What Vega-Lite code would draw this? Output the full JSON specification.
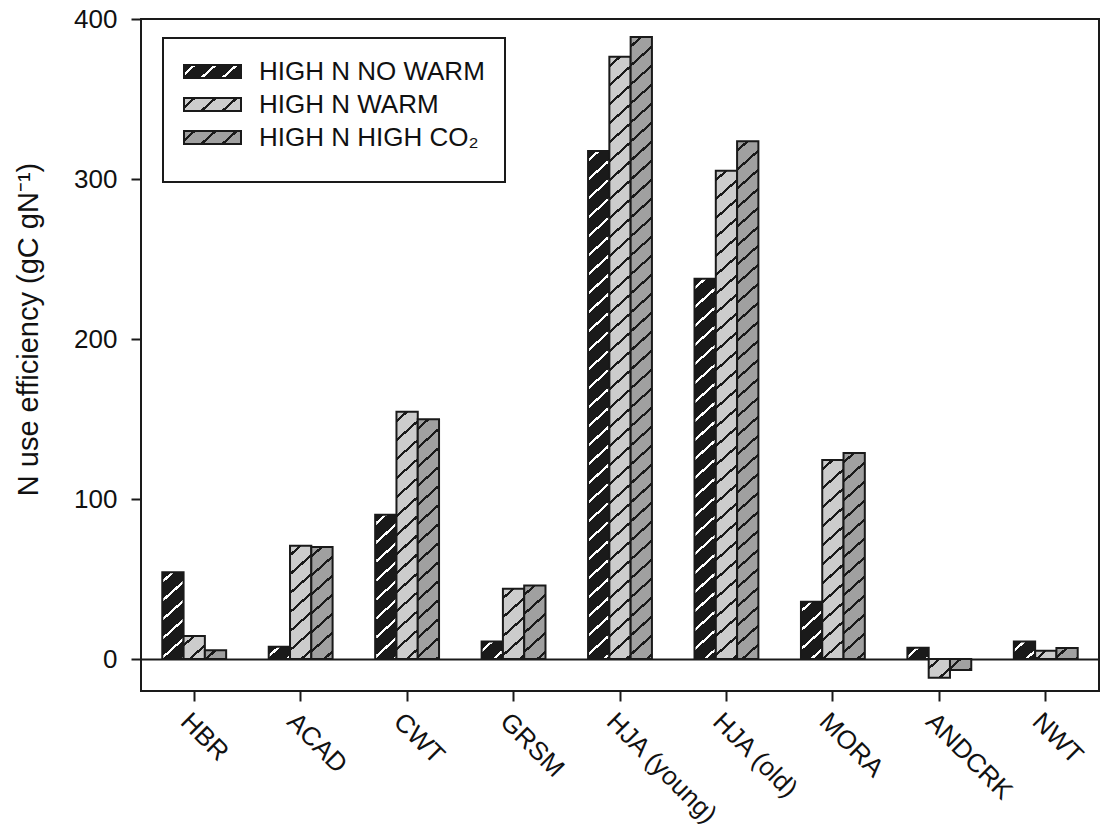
{
  "$schema": "https://vega.github.io/schema/vega-lite/v6.json",
  "width": 958,
  "height": 672,
  "autosize": "none",
  "padding": {"left": 141, "top": 19, "right": 3, "bottom": 144},
  "background": "white",
  "params": [
    {"name": "gradBlack", "value": {"gradient": "linear", "x1": 0, "y1": 0, "x2": 12.09, "y2": 3.064, "stops": [
      {"offset":0.0121,"color":"#1a1a1a"},{"offset":0.0121,"color":"#fff"},{"offset":0.0167,"color":"#fff"},{"offset":0.0167,"color":"#1a1a1a"},
      {"offset":0.0409,"color":"#1a1a1a"},{"offset":0.0409,"color":"#fff"},{"offset":0.0455,"color":"#fff"},{"offset":0.0455,"color":"#1a1a1a"},
      {"offset":0.0697,"color":"#1a1a1a"},{"offset":0.0697,"color":"#fff"},{"offset":0.0742,"color":"#fff"},{"offset":0.0742,"color":"#1a1a1a"},
      {"offset":0.0985,"color":"#1a1a1a"},{"offset":0.0985,"color":"#fff"},{"offset":0.1030,"color":"#fff"},{"offset":0.1030,"color":"#1a1a1a"},
      {"offset":0.1273,"color":"#1a1a1a"},{"offset":0.1273,"color":"#fff"},{"offset":0.1318,"color":"#fff"},{"offset":0.1318,"color":"#1a1a1a"},
      {"offset":0.1561,"color":"#1a1a1a"},{"offset":0.1561,"color":"#fff"},{"offset":0.1606,"color":"#fff"},{"offset":0.1606,"color":"#1a1a1a"},
      {"offset":0.1848,"color":"#1a1a1a"},{"offset":0.1848,"color":"#fff"},{"offset":0.1894,"color":"#fff"},{"offset":0.1894,"color":"#1a1a1a"},
      {"offset":0.2136,"color":"#1a1a1a"},{"offset":0.2136,"color":"#fff"},{"offset":0.2182,"color":"#fff"},{"offset":0.2182,"color":"#1a1a1a"},
      {"offset":0.2424,"color":"#1a1a1a"},{"offset":0.2424,"color":"#fff"},{"offset":0.2470,"color":"#fff"},{"offset":0.2470,"color":"#1a1a1a"},
      {"offset":0.2712,"color":"#1a1a1a"},{"offset":0.2712,"color":"#fff"},{"offset":0.2758,"color":"#fff"},{"offset":0.2758,"color":"#1a1a1a"},
      {"offset":0.3000,"color":"#1a1a1a"},{"offset":0.3000,"color":"#fff"},{"offset":0.3045,"color":"#fff"},{"offset":0.3045,"color":"#1a1a1a"},
      {"offset":0.3288,"color":"#1a1a1a"},{"offset":0.3288,"color":"#fff"},{"offset":0.3333,"color":"#fff"},{"offset":0.3333,"color":"#1a1a1a"},
      {"offset":0.3576,"color":"#1a1a1a"},{"offset":0.3576,"color":"#fff"},{"offset":0.3621,"color":"#fff"},{"offset":0.3621,"color":"#1a1a1a"},
      {"offset":0.3864,"color":"#1a1a1a"},{"offset":0.3864,"color":"#fff"},{"offset":0.3909,"color":"#fff"},{"offset":0.3909,"color":"#1a1a1a"},
      {"offset":0.4152,"color":"#1a1a1a"},{"offset":0.4152,"color":"#fff"},{"offset":0.4197,"color":"#fff"},{"offset":0.4197,"color":"#1a1a1a"},
      {"offset":0.4439,"color":"#1a1a1a"},{"offset":0.4439,"color":"#fff"},{"offset":0.4485,"color":"#fff"},{"offset":0.4485,"color":"#1a1a1a"},
      {"offset":0.4727,"color":"#1a1a1a"},{"offset":0.4727,"color":"#fff"},{"offset":0.4773,"color":"#fff"},{"offset":0.4773,"color":"#1a1a1a"},
      {"offset":0.5015,"color":"#1a1a1a"},{"offset":0.5015,"color":"#fff"},{"offset":0.5061,"color":"#fff"},{"offset":0.5061,"color":"#1a1a1a"},
      {"offset":0.5303,"color":"#1a1a1a"},{"offset":0.5303,"color":"#fff"},{"offset":0.5348,"color":"#fff"},{"offset":0.5348,"color":"#1a1a1a"},
      {"offset":0.5591,"color":"#1a1a1a"},{"offset":0.5591,"color":"#fff"},{"offset":0.5636,"color":"#fff"},{"offset":0.5636,"color":"#1a1a1a"},
      {"offset":0.5879,"color":"#1a1a1a"},{"offset":0.5879,"color":"#fff"},{"offset":0.5924,"color":"#fff"},{"offset":0.5924,"color":"#1a1a1a"},
      {"offset":0.6167,"color":"#1a1a1a"},{"offset":0.6167,"color":"#fff"},{"offset":0.6212,"color":"#fff"},{"offset":0.6212,"color":"#1a1a1a"},
      {"offset":0.6455,"color":"#1a1a1a"},{"offset":0.6455,"color":"#fff"},{"offset":0.6500,"color":"#fff"},{"offset":0.6500,"color":"#1a1a1a"},
      {"offset":0.6742,"color":"#1a1a1a"},{"offset":0.6742,"color":"#fff"},{"offset":0.6788,"color":"#fff"},{"offset":0.6788,"color":"#1a1a1a"},
      {"offset":0.7030,"color":"#1a1a1a"},{"offset":0.7030,"color":"#fff"},{"offset":0.7076,"color":"#fff"},{"offset":0.7076,"color":"#1a1a1a"},
      {"offset":0.7318,"color":"#1a1a1a"},{"offset":0.7318,"color":"#fff"},{"offset":0.7364,"color":"#fff"},{"offset":0.7364,"color":"#1a1a1a"},
      {"offset":0.7606,"color":"#1a1a1a"},{"offset":0.7606,"color":"#fff"},{"offset":0.7652,"color":"#fff"},{"offset":0.7652,"color":"#1a1a1a"},
      {"offset":0.7894,"color":"#1a1a1a"},{"offset":0.7894,"color":"#fff"},{"offset":0.7939,"color":"#fff"},{"offset":0.7939,"color":"#1a1a1a"},
      {"offset":0.8182,"color":"#1a1a1a"},{"offset":0.8182,"color":"#fff"},{"offset":0.8227,"color":"#fff"},{"offset":0.8227,"color":"#1a1a1a"},
      {"offset":0.8470,"color":"#1a1a1a"},{"offset":0.8470,"color":"#fff"},{"offset":0.8515,"color":"#fff"},{"offset":0.8515,"color":"#1a1a1a"},
      {"offset":0.8758,"color":"#1a1a1a"},{"offset":0.8758,"color":"#fff"},{"offset":0.8803,"color":"#fff"},{"offset":0.8803,"color":"#1a1a1a"},
      {"offset":0.9045,"color":"#1a1a1a"},{"offset":0.9045,"color":"#fff"},{"offset":0.9091,"color":"#fff"},{"offset":0.9091,"color":"#1a1a1a"},
      {"offset":0.9333,"color":"#1a1a1a"},{"offset":0.9333,"color":"#fff"},{"offset":0.9379,"color":"#fff"},{"offset":0.9379,"color":"#1a1a1a"},
      {"offset":0.9621,"color":"#1a1a1a"},{"offset":0.9621,"color":"#fff"},{"offset":0.9667,"color":"#fff"},{"offset":0.9667,"color":"#1a1a1a"},
      {"offset":0.9909,"color":"#1a1a1a"},{"offset":0.9909,"color":"#fff"},{"offset":0.9955,"color":"#fff"},{"offset":0.9955,"color":"#1a1a1a"}
    ]}},
    {"name": "gradLight", "value": {"gradient": "linear", "x1": 0, "y1": 0, "x2": 12.09, "y2": 3.064, "stops": [
      {"offset":0.0121,"color":"#ccc"},{"offset":0.0121,"color":"#1a1a1a"},{"offset":0.0167,"color":"#1a1a1a"},{"offset":0.0167,"color":"#ccc"},
      {"offset":0.0409,"color":"#ccc"},{"offset":0.0409,"color":"#1a1a1a"},{"offset":0.0455,"color":"#1a1a1a"},{"offset":0.0455,"color":"#ccc"},
      {"offset":0.0697,"color":"#ccc"},{"offset":0.0697,"color":"#1a1a1a"},{"offset":0.0742,"color":"#1a1a1a"},{"offset":0.0742,"color":"#ccc"},
      {"offset":0.0985,"color":"#ccc"},{"offset":0.0985,"color":"#1a1a1a"},{"offset":0.1030,"color":"#1a1a1a"},{"offset":0.1030,"color":"#ccc"},
      {"offset":0.1273,"color":"#ccc"},{"offset":0.1273,"color":"#1a1a1a"},{"offset":0.1318,"color":"#1a1a1a"},{"offset":0.1318,"color":"#ccc"},
      {"offset":0.1561,"color":"#ccc"},{"offset":0.1561,"color":"#1a1a1a"},{"offset":0.1606,"color":"#1a1a1a"},{"offset":0.1606,"color":"#ccc"},
      {"offset":0.1848,"color":"#ccc"},{"offset":0.1848,"color":"#1a1a1a"},{"offset":0.1894,"color":"#1a1a1a"},{"offset":0.1894,"color":"#ccc"},
      {"offset":0.2136,"color":"#ccc"},{"offset":0.2136,"color":"#1a1a1a"},{"offset":0.2182,"color":"#1a1a1a"},{"offset":0.2182,"color":"#ccc"},
      {"offset":0.2424,"color":"#ccc"},{"offset":0.2424,"color":"#1a1a1a"},{"offset":0.2470,"color":"#1a1a1a"},{"offset":0.2470,"color":"#ccc"},
      {"offset":0.2712,"color":"#ccc"},{"offset":0.2712,"color":"#1a1a1a"},{"offset":0.2758,"color":"#1a1a1a"},{"offset":0.2758,"color":"#ccc"},
      {"offset":0.3000,"color":"#ccc"},{"offset":0.3000,"color":"#1a1a1a"},{"offset":0.3045,"color":"#1a1a1a"},{"offset":0.3045,"color":"#ccc"},
      {"offset":0.3288,"color":"#ccc"},{"offset":0.3288,"color":"#1a1a1a"},{"offset":0.3333,"color":"#1a1a1a"},{"offset":0.3333,"color":"#ccc"},
      {"offset":0.3576,"color":"#ccc"},{"offset":0.3576,"color":"#1a1a1a"},{"offset":0.3621,"color":"#1a1a1a"},{"offset":0.3621,"color":"#ccc"},
      {"offset":0.3864,"color":"#ccc"},{"offset":0.3864,"color":"#1a1a1a"},{"offset":0.3909,"color":"#1a1a1a"},{"offset":0.3909,"color":"#ccc"},
      {"offset":0.4152,"color":"#ccc"},{"offset":0.4152,"color":"#1a1a1a"},{"offset":0.4197,"color":"#1a1a1a"},{"offset":0.4197,"color":"#ccc"},
      {"offset":0.4439,"color":"#ccc"},{"offset":0.4439,"color":"#1a1a1a"},{"offset":0.4485,"color":"#1a1a1a"},{"offset":0.4485,"color":"#ccc"},
      {"offset":0.4727,"color":"#ccc"},{"offset":0.4727,"color":"#1a1a1a"},{"offset":0.4773,"color":"#1a1a1a"},{"offset":0.4773,"color":"#ccc"},
      {"offset":0.5015,"color":"#ccc"},{"offset":0.5015,"color":"#1a1a1a"},{"offset":0.5061,"color":"#1a1a1a"},{"offset":0.5061,"color":"#ccc"},
      {"offset":0.5303,"color":"#ccc"},{"offset":0.5303,"color":"#1a1a1a"},{"offset":0.5348,"color":"#1a1a1a"},{"offset":0.5348,"color":"#ccc"},
      {"offset":0.5591,"color":"#ccc"},{"offset":0.5591,"color":"#1a1a1a"},{"offset":0.5636,"color":"#1a1a1a"},{"offset":0.5636,"color":"#ccc"},
      {"offset":0.5879,"color":"#ccc"},{"offset":0.5879,"color":"#1a1a1a"},{"offset":0.5924,"color":"#1a1a1a"},{"offset":0.5924,"color":"#ccc"},
      {"offset":0.6167,"color":"#ccc"},{"offset":0.6167,"color":"#1a1a1a"},{"offset":0.6212,"color":"#1a1a1a"},{"offset":0.6212,"color":"#ccc"},
      {"offset":0.6455,"color":"#ccc"},{"offset":0.6455,"color":"#1a1a1a"},{"offset":0.6500,"color":"#1a1a1a"},{"offset":0.6500,"color":"#ccc"},
      {"offset":0.6742,"color":"#ccc"},{"offset":0.6742,"color":"#1a1a1a"},{"offset":0.6788,"color":"#1a1a1a"},{"offset":0.6788,"color":"#ccc"},
      {"offset":0.7030,"color":"#ccc"},{"offset":0.7030,"color":"#1a1a1a"},{"offset":0.7076,"color":"#1a1a1a"},{"offset":0.7076,"color":"#ccc"},
      {"offset":0.7318,"color":"#ccc"},{"offset":0.7318,"color":"#1a1a1a"},{"offset":0.7364,"color":"#1a1a1a"},{"offset":0.7364,"color":"#ccc"},
      {"offset":0.7606,"color":"#ccc"},{"offset":0.7606,"color":"#1a1a1a"},{"offset":0.7652,"color":"#1a1a1a"},{"offset":0.7652,"color":"#ccc"},
      {"offset":0.7894,"color":"#ccc"},{"offset":0.7894,"color":"#1a1a1a"},{"offset":0.7939,"color":"#1a1a1a"},{"offset":0.7939,"color":"#ccc"},
      {"offset":0.8182,"color":"#ccc"},{"offset":0.8182,"color":"#1a1a1a"},{"offset":0.8227,"color":"#1a1a1a"},{"offset":0.8227,"color":"#ccc"},
      {"offset":0.8470,"color":"#ccc"},{"offset":0.8470,"color":"#1a1a1a"},{"offset":0.8515,"color":"#1a1a1a"},{"offset":0.8515,"color":"#ccc"},
      {"offset":0.8758,"color":"#ccc"},{"offset":0.8758,"color":"#1a1a1a"},{"offset":0.8803,"color":"#1a1a1a"},{"offset":0.8803,"color":"#ccc"},
      {"offset":0.9045,"color":"#ccc"},{"offset":0.9045,"color":"#1a1a1a"},{"offset":0.9091,"color":"#1a1a1a"},{"offset":0.9091,"color":"#ccc"},
      {"offset":0.9333,"color":"#ccc"},{"offset":0.9333,"color":"#1a1a1a"},{"offset":0.9379,"color":"#1a1a1a"},{"offset":0.9379,"color":"#ccc"},
      {"offset":0.9621,"color":"#ccc"},{"offset":0.9621,"color":"#1a1a1a"},{"offset":0.9667,"color":"#1a1a1a"},{"offset":0.9667,"color":"#ccc"},
      {"offset":0.9909,"color":"#ccc"},{"offset":0.9909,"color":"#1a1a1a"},{"offset":0.9955,"color":"#1a1a1a"},{"offset":0.9955,"color":"#ccc"}
    ]}},
    {"name": "gradMid", "value": {"gradient": "linear", "x1": 0, "y1": 0, "x2": 12.09, "y2": 3.064, "stops": [
      {"offset":0.0121,"color":"#a0a0a0"},{"offset":0.0121,"color":"#1a1a1a"},{"offset":0.0167,"color":"#1a1a1a"},{"offset":0.0167,"color":"#a0a0a0"},
      {"offset":0.0409,"color":"#a0a0a0"},{"offset":0.0409,"color":"#1a1a1a"},{"offset":0.0455,"color":"#1a1a1a"},{"offset":0.0455,"color":"#a0a0a0"},
      {"offset":0.0697,"color":"#a0a0a0"},{"offset":0.0697,"color":"#1a1a1a"},{"offset":0.0742,"color":"#1a1a1a"},{"offset":0.0742,"color":"#a0a0a0"},
      {"offset":0.0985,"color":"#a0a0a0"},{"offset":0.0985,"color":"#1a1a1a"},{"offset":0.1030,"color":"#1a1a1a"},{"offset":0.1030,"color":"#a0a0a0"},
      {"offset":0.1273,"color":"#a0a0a0"},{"offset":0.1273,"color":"#1a1a1a"},{"offset":0.1318,"color":"#1a1a1a"},{"offset":0.1318,"color":"#a0a0a0"},
      {"offset":0.1561,"color":"#a0a0a0"},{"offset":0.1561,"color":"#1a1a1a"},{"offset":0.1606,"color":"#1a1a1a"},{"offset":0.1606,"color":"#a0a0a0"},
      {"offset":0.1848,"color":"#a0a0a0"},{"offset":0.1848,"color":"#1a1a1a"},{"offset":0.1894,"color":"#1a1a1a"},{"offset":0.1894,"color":"#a0a0a0"},
      {"offset":0.2136,"color":"#a0a0a0"},{"offset":0.2136,"color":"#1a1a1a"},{"offset":0.2182,"color":"#1a1a1a"},{"offset":0.2182,"color":"#a0a0a0"},
      {"offset":0.2424,"color":"#a0a0a0"},{"offset":0.2424,"color":"#1a1a1a"},{"offset":0.2470,"color":"#1a1a1a"},{"offset":0.2470,"color":"#a0a0a0"},
      {"offset":0.2712,"color":"#a0a0a0"},{"offset":0.2712,"color":"#1a1a1a"},{"offset":0.2758,"color":"#1a1a1a"},{"offset":0.2758,"color":"#a0a0a0"},
      {"offset":0.3000,"color":"#a0a0a0"},{"offset":0.3000,"color":"#1a1a1a"},{"offset":0.3045,"color":"#1a1a1a"},{"offset":0.3045,"color":"#a0a0a0"},
      {"offset":0.3288,"color":"#a0a0a0"},{"offset":0.3288,"color":"#1a1a1a"},{"offset":0.3333,"color":"#1a1a1a"},{"offset":0.3333,"color":"#a0a0a0"},
      {"offset":0.3576,"color":"#a0a0a0"},{"offset":0.3576,"color":"#1a1a1a"},{"offset":0.3621,"color":"#1a1a1a"},{"offset":0.3621,"color":"#a0a0a0"},
      {"offset":0.3864,"color":"#a0a0a0"},{"offset":0.3864,"color":"#1a1a1a"},{"offset":0.3909,"color":"#1a1a1a"},{"offset":0.3909,"color":"#a0a0a0"},
      {"offset":0.4152,"color":"#a0a0a0"},{"offset":0.4152,"color":"#1a1a1a"},{"offset":0.4197,"color":"#1a1a1a"},{"offset":0.4197,"color":"#a0a0a0"},
      {"offset":0.4439,"color":"#a0a0a0"},{"offset":0.4439,"color":"#1a1a1a"},{"offset":0.4485,"color":"#1a1a1a"},{"offset":0.4485,"color":"#a0a0a0"},
      {"offset":0.4727,"color":"#a0a0a0"},{"offset":0.4727,"color":"#1a1a1a"},{"offset":0.4773,"color":"#1a1a1a"},{"offset":0.4773,"color":"#a0a0a0"},
      {"offset":0.5015,"color":"#a0a0a0"},{"offset":0.5015,"color":"#1a1a1a"},{"offset":0.5061,"color":"#1a1a1a"},{"offset":0.5061,"color":"#a0a0a0"},
      {"offset":0.5303,"color":"#a0a0a0"},{"offset":0.5303,"color":"#1a1a1a"},{"offset":0.5348,"color":"#1a1a1a"},{"offset":0.5348,"color":"#a0a0a0"},
      {"offset":0.5591,"color":"#a0a0a0"},{"offset":0.5591,"color":"#1a1a1a"},{"offset":0.5636,"color":"#1a1a1a"},{"offset":0.5636,"color":"#a0a0a0"},
      {"offset":0.5879,"color":"#a0a0a0"},{"offset":0.5879,"color":"#1a1a1a"},{"offset":0.5924,"color":"#1a1a1a"},{"offset":0.5924,"color":"#a0a0a0"},
      {"offset":0.6167,"color":"#a0a0a0"},{"offset":0.6167,"color":"#1a1a1a"},{"offset":0.6212,"color":"#1a1a1a"},{"offset":0.6212,"color":"#a0a0a0"},
      {"offset":0.6455,"color":"#a0a0a0"},{"offset":0.6455,"color":"#1a1a1a"},{"offset":0.6500,"color":"#1a1a1a"},{"offset":0.6500,"color":"#a0a0a0"},
      {"offset":0.6742,"color":"#a0a0a0"},{"offset":0.6742,"color":"#1a1a1a"},{"offset":0.6788,"color":"#1a1a1a"},{"offset":0.6788,"color":"#a0a0a0"},
      {"offset":0.7030,"color":"#a0a0a0"},{"offset":0.7030,"color":"#1a1a1a"},{"offset":0.7076,"color":"#1a1a1a"},{"offset":0.7076,"color":"#a0a0a0"},
      {"offset":0.7318,"color":"#a0a0a0"},{"offset":0.7318,"color":"#1a1a1a"},{"offset":0.7364,"color":"#1a1a1a"},{"offset":0.7364,"color":"#a0a0a0"},
      {"offset":0.7606,"color":"#a0a0a0"},{"offset":0.7606,"color":"#1a1a1a"},{"offset":0.7652,"color":"#1a1a1a"},{"offset":0.7652,"color":"#a0a0a0"},
      {"offset":0.7894,"color":"#a0a0a0"},{"offset":0.7894,"color":"#1a1a1a"},{"offset":0.7939,"color":"#1a1a1a"},{"offset":0.7939,"color":"#a0a0a0"},
      {"offset":0.8182,"color":"#a0a0a0"},{"offset":0.8182,"color":"#1a1a1a"},{"offset":0.8227,"color":"#1a1a1a"},{"offset":0.8227,"color":"#a0a0a0"},
      {"offset":0.8470,"color":"#a0a0a0"},{"offset":0.8470,"color":"#1a1a1a"},{"offset":0.8515,"color":"#1a1a1a"},{"offset":0.8515,"color":"#a0a0a0"},
      {"offset":0.8758,"color":"#a0a0a0"},{"offset":0.8758,"color":"#1a1a1a"},{"offset":0.8803,"color":"#1a1a1a"},{"offset":0.8803,"color":"#a0a0a0"},
      {"offset":0.9045,"color":"#a0a0a0"},{"offset":0.9045,"color":"#1a1a1a"},{"offset":0.9091,"color":"#1a1a1a"},{"offset":0.9091,"color":"#a0a0a0"},
      {"offset":0.9333,"color":"#a0a0a0"},{"offset":0.9333,"color":"#1a1a1a"},{"offset":0.9379,"color":"#1a1a1a"},{"offset":0.9379,"color":"#a0a0a0"},
      {"offset":0.9621,"color":"#a0a0a0"},{"offset":0.9621,"color":"#1a1a1a"},{"offset":0.9667,"color":"#1a1a1a"},{"offset":0.9667,"color":"#a0a0a0"},
      {"offset":0.9909,"color":"#a0a0a0"},{"offset":0.9909,"color":"#1a1a1a"},{"offset":0.9955,"color":"#1a1a1a"},{"offset":0.9955,"color":"#a0a0a0"}
    ]}}
  ],
  "data": {
    "values": [
      {"site": "HBR", "treatment": "HIGH N NO WARM", "nue": 54.2},
      {"site": "HBR", "treatment": "HIGH N WARM", "nue": 14.4},
      {"site": "HBR", "treatment": "HIGH N HIGH CO₂", "nue": 5.4},
      {"site": "ACAD", "treatment": "HIGH N NO WARM", "nue": 7.7},
      {"site": "ACAD", "treatment": "HIGH N WARM", "nue": 70.8},
      {"site": "ACAD", "treatment": "HIGH N HIGH CO₂", "nue": 70.0},
      {"site": "CWT", "treatment": "HIGH N NO WARM", "nue": 90.2},
      {"site": "CWT", "treatment": "HIGH N WARM", "nue": 154.6},
      {"site": "CWT", "treatment": "HIGH N HIGH CO₂", "nue": 149.8},
      {"site": "GRSM", "treatment": "HIGH N NO WARM", "nue": 11.0},
      {"site": "GRSM", "treatment": "HIGH N WARM", "nue": 43.9},
      {"site": "GRSM", "treatment": "HIGH N HIGH CO₂", "nue": 46.0},
      {"site": "HJA (young)", "treatment": "HIGH N NO WARM", "nue": 317.5},
      {"site": "HJA (young)", "treatment": "HIGH N WARM", "nue": 376.4},
      {"site": "HJA (young)", "treatment": "HIGH N HIGH CO₂", "nue": 388.7},
      {"site": "HJA (old)", "treatment": "HIGH N NO WARM", "nue": 237.7},
      {"site": "HJA (old)", "treatment": "HIGH N WARM", "nue": 305.2},
      {"site": "HJA (old)", "treatment": "HIGH N HIGH CO₂", "nue": 323.6},
      {"site": "MORA", "treatment": "HIGH N NO WARM", "nue": 35.8},
      {"site": "MORA", "treatment": "HIGH N WARM", "nue": 124.4},
      {"site": "MORA", "treatment": "HIGH N HIGH CO₂", "nue": 128.8},
      {"site": "ANDCRK", "treatment": "HIGH N NO WARM", "nue": 7.1},
      {"site": "ANDCRK", "treatment": "HIGH N WARM", "nue": -11.7},
      {"site": "ANDCRK", "treatment": "HIGH N HIGH CO₂", "nue": -6.9},
      {"site": "NWT", "treatment": "HIGH N NO WARM", "nue": 11.0},
      {"site": "NWT", "treatment": "HIGH N WARM", "nue": 5.2},
      {"site": "NWT", "treatment": "HIGH N HIGH CO₂", "nue": 6.9}
    ]
  },
  "encoding": {
    "x": {
      "field": "site", "type": "nominal",
      "sort": ["HBR", "ACAD", "CWT", "GRSM", "HJA (young)", "HJA (old)", "MORA", "ANDCRK", "NWT"],
      "scale": {"paddingInner": 0.4, "paddingOuter": 0.2},
      "axis": {
        "title": null, "labelAngle": 45, "labelAlign": "left", "labelBaseline": "top",
        "labelFontSize": 26, "labelPadding": 7, "tickSize": 10, "bandPosition": 0.5
      }
    },
    "xOffset": {
      "field": "treatment", "type": "nominal",
      "sort": ["HIGH N NO WARM", "HIGH N WARM", "HIGH N HIGH CO₂"],
      "scale": {"paddingInner": 0, "paddingOuter": 0}
    },
    "y": {
      "field": "nue", "type": "quantitative", "stack": null,
      "scale": {"domain": [-20, 400], "nice": false, "zero": false},
      "axis": {
        "title": "N use efficiency (gC gN⁻¹)", "titleFontSize": 29, "titleFontWeight": "normal",
        "titlePadding": 30, "titleY": 310, "labelFontSize": 26, "labelPadding": 14, "tickSize": 10,
        "values": [0, 100, 200, 300, 400],
        "grid": true, "gridColor": "#1a1a1a", "gridWidth": 2,
        "gridOpacity": {"condition": {"test": "datum.value === 0", "value": 1}, "value": 0}
      }
    }
  },
  "layer": [
    {
      "mark": {"type": "bar"},
      "encoding": {
        "color": {
          "field": "treatment", "type": "nominal",
          "scale": {
            "domain": ["HIGH N NO WARM", "HIGH N WARM", "HIGH N HIGH CO₂"],
            "range": [{"expr": "gradBlack"}, {"expr": "gradLight"}, {"expr": "gradMid"}]
          },
          "legend": {
            "title": " ", "titleOrient": "bottom", "titleFontSize": 9, "titlePadding": 2,
            "orient": "none", "legendX": 22, "legendY": 19, "direction": "vertical",
            "padding": 20, "strokeColor": "#1a1a1a", "fillColor": "white",
            "labelFontSize": 26, "labelColor": "#111", "labelOffset": 17, "labelLimit": 400,
            "symbolType": "M-1,-0.23H1V0.23H-1Z", "symbolSize": 3249,
            "symbolStrokeColor": "#1a1a1a", "symbolStrokeWidth": 2,
            "clipHeight": 27, "rowPadding": 6
          }
        }
      }
    },
    {
      "mark": {
        "type": "bar",
        "fill": {"expr": "{gradient: 'linear', x1: 0, y1: 0, x2: 12646 / (367.1 + pow(1.6 * datum.nue, 2)), y2: 1056 * abs(datum.nue) / (367.1 + pow(1.6 * datum.nue, 2)), stops: datum.treatment == 'HIGH N NO WARM' ? gradBlack.stops : (datum.treatment == 'HIGH N WARM' ? gradLight.stops : gradMid.stops)}"},
        "stroke": "#1a1a1a",
        "strokeWidth": 2
      }
    }
  ],
  "config": {
    "font": "Liberation Sans",
    "view": {"stroke": "#1a1a1a", "strokeWidth": 2},
    "axis": {
      "domain": false, "tickColor": "#1a1a1a", "tickWidth": 2,
      "labelColor": "#111", "titleColor": "#111", "labelFont": "Liberation Sans", "titleFont": "Liberation Sans"
    },
    "axisX": {"grid": false},
    "legend": {"strokeWidth": 2}
  }
}
